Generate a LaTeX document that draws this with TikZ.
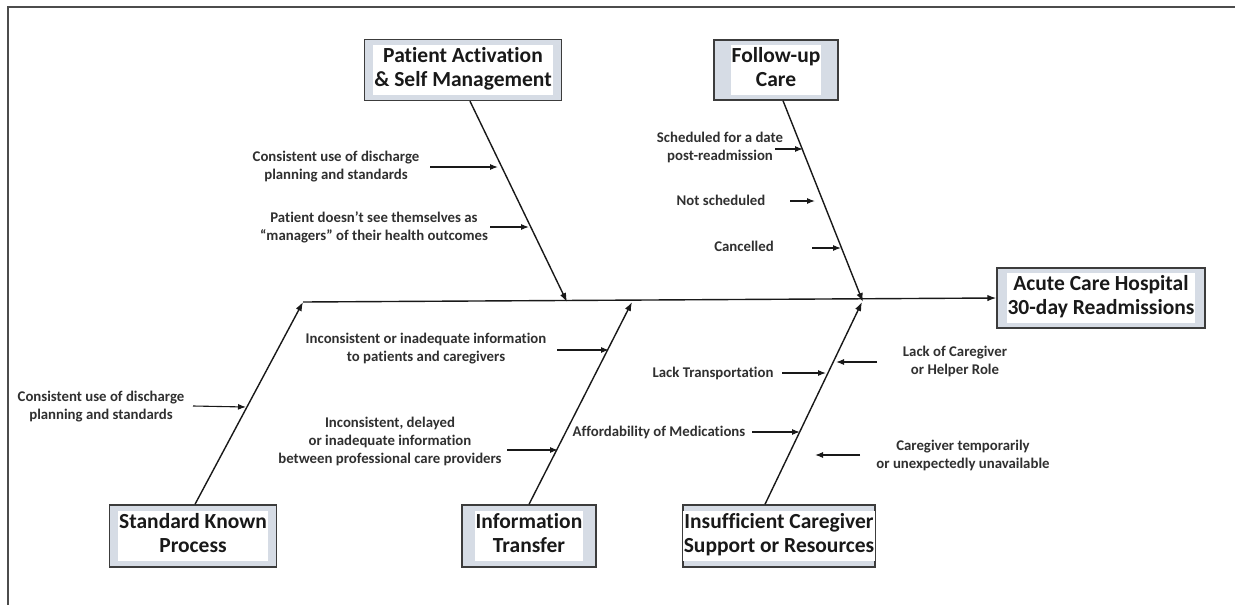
\documentclass[tikz,border=0pt]{standalone}
\usepackage{fontspec}
\setmainfont[Ligatures=NoCommon]{Carlito}
\usetikzlibrary{arrows.meta}
\definecolor{boxfill}{RGB}{214,220,229}
\definecolor{ink}{RGB}{25,25,25}
\newcommand{\boxtext}[1]{\setlength{\fboxsep}{1pt}\colorbox{white}{\begin{tabular}{@{}c@{}}#1\end{tabular}}}
\begin{document}
\begin{tikzpicture}[x=1pt,y=-1pt,
  bone/.style={draw=ink,line width=1.4pt,-{Latex[length=9pt,width=6.5pt]}},
  sub/.style={draw=ink,line width=1.1pt,-{Latex[length=8pt,width=6pt]}},
  cause/.style={draw=ink!85,line width=1.4pt,fill=boxfill,inner sep=0pt,
    font=\fontsize{21.5}{24}\selectfont\bfseries,text=ink},
  note/.style={align=center,font=\fontsize{14.8}{18}\selectfont\bfseries,
    text=ink!90,inner sep=0pt}]
\useasboundingbox (0,0) rectangle (1235,605);
\fill[white] (0,0) rectangle (1235,605);

% frame
\draw[draw=black!70,line width=1.8pt] (8,605) -- (8,7) -- (1235,7);

% effect and cause boxes
\node[cause,minimum width=208,minimum height=60] (eff) at (1101,298)
  {\boxtext{Acute Care Hospital\\30-day Readmissions}};
\node[cause,minimum width=197,minimum height=61] (pa) at (463,70)
  {\boxtext{Patient Activation\\\& Self Management}};
\node[cause,minimum width=124,minimum height=60] (fu) at (776,70)
  {\boxtext{Follow-up\\Care}};
\node[cause,minimum width=167,minimum height=62] (skp) at (193,536)
  {\boxtext{Standard Known\\Process}};
\node[cause,minimum width=134,minimum height=62] (it) at (529,536)
  {\boxtext{Information\\Transfer}};
\node[cause,minimum width=192,minimum height=62] (ic) at (779,536)
  {\boxtext{Insufficient Caregiver\\Support or Resources}};

% spine
\coordinate (tail) at (303,302);
\coordinate (jpa) at (567,302);
\coordinate (jfu) at (863,302);
\coordinate (jit) at (632,302);
\coordinate (jic) at (862,302);
\draw[bone] (tail) -- (eff.west);

% bones
\draw[bone] ([xshift=7pt]pa.south) -- (jpa);
\draw[bone] ([xshift=7pt]fu.south) -- (jfu);
\draw[bone] ([xshift=2pt]skp.north) -- (tail);
\draw[bone] (it.north) -- (jit);
\draw[bone] ([xshift=-14pt]ic.north) -- (jic);

% sub-causes
\node[note] (n1) at (336,167) {Consistent use of discharge\\planning and standards};
\node[note] (n2) at (374,227) {Patient doesn't see themselves as\\``managers'' of their health outcomes};
\node[note] (n3) at (720,147) {Scheduled for a date\\post-readmission};
\node[note] (n4) at (721,200) {Not scheduled};
\node[note] (n5) at (744,246) {Cancelled};
\node[note] (n6) at (101,407) {Consistent use of discharge\\planning and standards};
\node[note] (n7) at (426,349) {Inconsistent or inadequate information\\to patients and caregivers};
\node[note] (n8) at (390,441) {Inconsistent, delayed\\or inadequate information\\between professional care providers};
\node[note] (n9) at (713,373) {Lack Transportation};
\node[note] (n10) at (955,361) {Lack of Caregiver\\or Helper Role};
\node[note] (n11) at (659,432) {Affordability of Medications};
\node[note] (n12) at (963,455) {Caregiver temporarily\\or unexpectedly unavailable};

% arrow ends
\coordinate (s1) at (430,167);  \coordinate (e1) at (498,167);
\coordinate (s2) at (490,227);  \coordinate (e2) at (529,227);
\coordinate (s3) at (775,149);  \coordinate (e3) at (803,149);
\coordinate (s4) at (790,201);  \coordinate (e4) at (815,201);
\coordinate (s5) at (812,248);  \coordinate (e5) at (841,248);
\coordinate (s6) at (193,406);  \coordinate (e6) at (246,407);
\coordinate (s7) at (557,350);  \coordinate (e7) at (609,350);
\coordinate (s8) at (507,450);  \coordinate (e8) at (558,450);
\coordinate (s9) at (782,373);  \coordinate (e9) at (826,373);
\coordinate (s10) at (877,362); \coordinate (e10) at (836,362);
\coordinate (s11) at (752,432); \coordinate (e11) at (800,432);
\coordinate (s12) at (860,455); \coordinate (e12) at (815,455);

\foreach \i in {1,...,12} \draw[sub] (s\i) -- (e\i);
\end{tikzpicture}
\end{document}
